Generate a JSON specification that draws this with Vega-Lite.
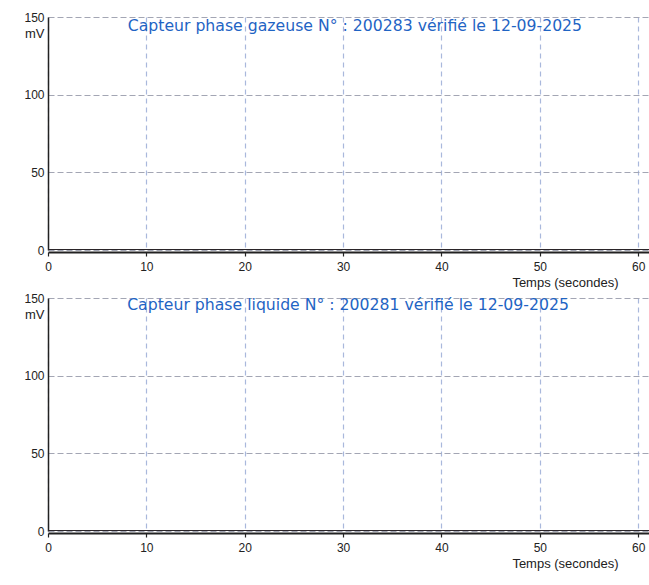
{
  "$schema": "https://vega.github.io/schema/vega-lite/v6.json",
  "autosize": {"type": "pad"},
  "padding": {"left": 23, "top": 11, "right": 0, "bottom": 17},
  "background": "white",
  "spacing": 48,
  "bounds": "flush",
  "datasets": {
    "gaz": [
      {"t": 0, "mv": 0}, {"t": 10, "mv": 0}, {"t": 20, "mv": 0}, {"t": 30, "mv": 0},
      {"t": 40, "mv": 0}, {"t": 50, "mv": 0}, {"t": 60, "mv": 0}, {"t": 61.1, "mv": 0}
    ],
    "liq": [
      {"t": 0, "mv": 0}, {"t": 10, "mv": 0}, {"t": 20, "mv": 0}, {"t": 30, "mv": 0},
      {"t": 40, "mv": 0}, {"t": 50, "mv": 0}, {"t": 60, "mv": 0}, {"t": 61.1, "mv": 0}
    ],
    "gaz_title": [{"t": 31.2, "mv": 144.3, "label": "Capteur phase gazeuse N° : 200283 vérifié le 12-09-2025"}],
    "liq_title": [{"t": 30.5, "mv": 145.3, "label": "Capteur phase liquide N° : 200281 vérifié le 12-09-2025"}]
  },
  "config": {
    "view": {"stroke": null},
    "font": "Liberation Sans",
    "axis": {
      "labelFont": "Liberation Sans",
      "labelFontSize": 12,
      "labelColor": "#222",
      "labelFlush": false,
      "titleFont": "Liberation Sans",
      "titleFontWeight": "normal",
      "titleFontSize": 13,
      "titleColor": "#222",
      "domainColor": "#222",
      "tickColor": "#222",
      "gridWidth": 1.2
    }
  },
  "vconcat": [
    {
      "width": 601,
      "height": 233,
      "encoding": {
        "x": {
          "field": "t", "type": "quantitative",
          "scale": {"domain": [0, 61.1], "nice": false, "zero": false},
          "axis": {
            "values": [0, 10, 20, 30, 40, 50, 60],
            "title": "Temps (secondes)",
            "titleX": 517, "titleY": 24, "titleAlign": "center", "titleBaseline": "top",
            "offset": 2, "domainWidth": 2, "tickSize": 4, "tickWidth": 1.2, "labelPadding": 5,
            "grid": true, "gridColor": "#a9b8dc", "gridDash": [5, 4]
          }
        },
        "y": {
          "field": "mv", "type": "quantitative",
          "scale": {"domain": [0, 150], "nice": false},
          "axis": {
            "values": [0, 50, 100, 150],
            "title": "mV", "titleAngle": 0, "titleAlign": "right", "titleBaseline": "middle",
            "titleX": -4, "titleY": 16,
            "domainWidth": 1.5, "ticks": false, "labelPadding": 4,
            "grid": true, "gridColor": "#a3a6b4", "gridDash": [6, 3]
          }
        }
      },
      "layer": [
        {
          "data": {"name": "gaz"},
          "mark": {"type": "line", "color": "#2a2428", "strokeWidth": 2, "clip": true}
        },
        {
          "data": {"name": "gaz_title"},
          "mark": {"type": "text", "font": "DejaVu Sans", "fontSize": 15.7, "color": "#1f64c4", "align": "center", "baseline": "middle"},
          "encoding": {"text": {"field": "label", "type": "nominal"}}
        }
      ]
    },
    {
      "width": 601,
      "height": 233,
      "encoding": {
        "x": {
          "field": "t", "type": "quantitative",
          "scale": {"domain": [0, 61.1], "nice": false, "zero": false},
          "axis": {
            "values": [0, 10, 20, 30, 40, 50, 60],
            "title": "Temps (secondes)",
            "titleX": 517, "titleY": 24, "titleAlign": "center", "titleBaseline": "top",
            "offset": 2, "domainWidth": 2, "tickSize": 4, "tickWidth": 1.2, "labelPadding": 5,
            "grid": true, "gridColor": "#a9b8dc", "gridDash": [5, 4]
          }
        },
        "y": {
          "field": "mv", "type": "quantitative",
          "scale": {"domain": [0, 150], "nice": false},
          "axis": {
            "values": [0, 50, 100, 150],
            "title": "mV", "titleAngle": 0, "titleAlign": "right", "titleBaseline": "middle",
            "titleX": -4, "titleY": 16,
            "domainWidth": 1.5, "ticks": false, "labelPadding": 4,
            "grid": true, "gridColor": "#a3a6b4", "gridDash": [6, 3]
          }
        }
      },
      "layer": [
        {
          "data": {"name": "liq"},
          "mark": {"type": "line", "color": "#2a2428", "strokeWidth": 2, "clip": true}
        },
        {
          "data": {"name": "liq_title"},
          "mark": {"type": "text", "font": "DejaVu Sans", "fontSize": 15.7, "color": "#1f64c4", "align": "center", "baseline": "middle"},
          "encoding": {"text": {"field": "label", "type": "nominal"}}
        }
      ]
    }
  ]
}
